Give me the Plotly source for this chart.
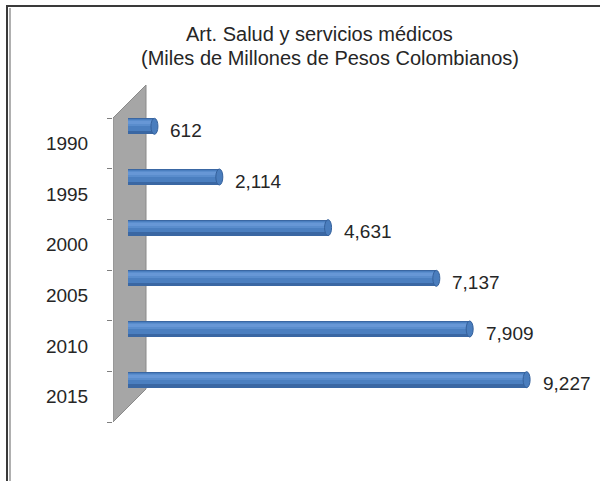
import plotly.graph_objects as go

# ---- data ----
years = ["1990", "1995", "2000", "2005", "2010", "2015"]
values = [612, 2114, 4631, 7137, 7909, 9227]
title_line1 = "Art. Salud y servicios médicos"
title_line2 = "(Miles de Millones de Pesos Colombianos)"

# ---- geometry (pixels) ----
W, H = 600, 481
ML, MR, MT, MB = 113, 5, 75, 51
band_top_px, band_bot_px = 118, 422
n = len(years)
py = (band_bot_px - band_top_px) / n          # px per category unit
ppu = 0.0432                                   # px per value unit
zero_px = 128
depth_px = 33
bar_shift_px = 17
bar_thick_px = 16

xmin = -(zero_px - ML) / ppu
xmax = xmin + (W - ML - MR) / ppu
y_top = -0.5 - (band_top_px - MT) / py
y_bot = (n - 0.5) + (H - MB - band_bot_px) / py

idx = list(range(n))
shift = bar_shift_px / py
th = bar_thick_px / py
centers = [i - shift for i in idx]

PW = W - ML - MR
PH = H - MT - MB


def px_x(x):
    return (x - ML) / PW


def px_y(y):
    return (H - MB - y) / PH


fig = go.Figure()

# cylinder body as stacked layers (top is smaller y because axis reversed)
layers = [
    (0.0, 1.0, "#3a67a3"),
    (0.07, 0.80, "#4b7fc0"),
    (0.12, 0.50, "#5a8dcd"),
    (0.18, 0.38, "#6797d6"),
]
for a, b, col in layers:
    fig.add_trace(go.Bar(
        y=idx, x=values, base=0, orientation="h",
        offset=-shift - th / 2 + a * th, width=(b - a) * th,
        marker=dict(color=col, line=dict(width=0)),
        hoverinfo="skip", showlegend=False,
    ))

# boundary ticks on an overlaid axis
fig.add_trace(go.Scatter(x=[None], y=[None], yaxis="y2", showlegend=False))

shapes = []
# frame
shapes.append(dict(type="line", xref="paper", yref="paper", layer="above",
                   x0=px_x(6), x1=px_x(610), y0=px_y(6), y1=px_y(6),
                   line=dict(color="#3a3a3a", width=2)))
shapes.append(dict(type="line", xref="paper", yref="paper", layer="above",
                   x0=px_x(7), x1=px_x(7), y0=px_y(490), y1=px_y(5),
                   line=dict(color="#3a3a3a", width=2)))
shapes.append(dict(type="line", xref="paper", yref="paper", layer="above",
                   x0=px_x(10), x1=px_x(10), y0=px_y(490), y1=px_y(8),
                   line=dict(color="#b0b0b0", width=2)))

# wall
dx = depth_px / ppu
dy = depth_px / py
wall_path = (f"M {xmin},{-0.5} L {xmin + dx},{-0.5 - dy} "
             f"L {xmin + dx},{n - 0.5 - dy} L {xmin},{n - 0.5} Z")
shapes.append(dict(type="path", xref="x", yref="y", path=wall_path, layer="below",
                   fillcolor="#a6a6a6", line=dict(color="#8a8a8a", width=1)))

# cylinder end caps
cap = 3.5 / ppu
for v, c in zip(values, centers):
    shapes.append(dict(type="circle", xref="x", yref="y", layer="above",
                       x0=v - cap, x1=v + cap, y0=c - th / 2, y1=c + th / 2,
                       fillcolor="#4a7dbd", line=dict(color="#35619c", width=1)))

FONT = "Liberation Sans, Arial"
annotations = []
for v, c in zip(values, centers):
    annotations.append(dict(x=v, y=c + 4 / py, xref="x", yref="y",
                            text=f"{v:,}", showarrow=False, xanchor="left",
                            yanchor="middle", xshift=14,
                            font=dict(family=FONT, size=19, color="#262626")))
annotations.append(dict(x=px_x(319), y=px_y(34), xref="paper", yref="paper",
                        text=title_line1, showarrow=False, xanchor="center",
                        yanchor="middle", font=dict(family=FONT, size=20, color="#262626")))
annotations.append(dict(x=px_x(330), y=px_y(58), xref="paper", yref="paper",
                        text=title_line2, showarrow=False, xanchor="center",
                        yanchor="middle", font=dict(family=FONT, size=20, color="#262626")))

fig.update_layout(
    width=W, height=H,
    margin=dict(l=ML, r=MR, t=MT, b=MB, pad=0),
    paper_bgcolor="white", plot_bgcolor="white",
    barmode="overlay", bargap=0,
    showlegend=False,
    xaxis=dict(range=[xmin, xmax], visible=False, fixedrange=True),
    yaxis=dict(range=[y_bot, y_top], tickvals=idx, ticktext=years,
               ticks="outside", ticklen=20, tickcolor="rgba(0,0,0,0)",
               showgrid=False, zeroline=False, showline=False, fixedrange=True,
               tickfont=dict(family=FONT, size=19, color="#262626")),
    yaxis2=dict(range=[y_bot, y_top], overlaying="y", side="left",
                tickvals=[i - 0.5 for i in range(n + 1)], ticks="outside", ticklen=5,
                tickcolor="#7f7f7f", showticklabels=False, showgrid=False,
                zeroline=False, showline=False, fixedrange=True),
    shapes=shapes, annotations=annotations,
)

fig.write_html("out.html", config={"displayModeBar": False},
               post_script="document.body.style.margin='0px';document.body.style.overflow='hidden';")
